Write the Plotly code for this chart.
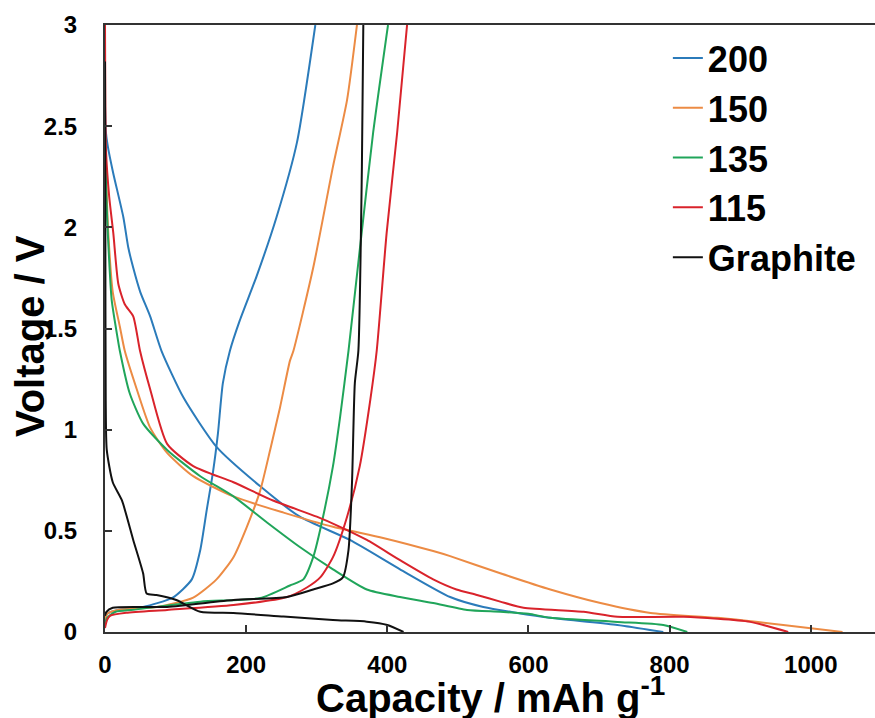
import plotly.graph_objects as go

# ---- data (capacity mAh/g, voltage V) ----
series_names = ["200", "150", "135", "115", "Graphite"]

blue_dis_x = [0, 1, 4, 11.5, 26, 33, 40, 50, 64, 80, 111, 158, 220, 276, 347, 418, 489, 536, 631, 726, 791]
blue_dis_y = [2.6, 2.48, 2.4, 2.27, 2.05, 1.9, 1.80, 1.68, 1.56, 1.39, 1.16, 0.915, 0.72, 0.57, 0.455, 0.31, 0.173, 0.124, 0.07, 0.035, 0]
blue_ch_x = [0, 3, 20, 54, 96, 123, 135, 144, 153, 160, 167, 177, 191, 215, 243, 272, 298]
blue_ch_y = [0.06, 0.09, 0.11, 0.124, 0.17, 0.26, 0.405, 0.60, 0.79, 0.98, 1.23, 1.39, 1.54, 1.76, 2.05, 2.42, 3.0]

orange_dis_x = [0, 2, 5, 11, 21, 28, 45, 64, 88, 125, 182, 253, 323, 394, 465, 489, 560, 631, 702, 773, 867, 961, 1045]
orange_dis_y = [2.45, 2.2, 1.95, 1.68, 1.51, 1.39, 1.2, 1.01, 0.885, 0.77, 0.67, 0.59, 0.52, 0.465, 0.40, 0.375, 0.29, 0.21, 0.143, 0.094, 0.07, 0.035, 0]
orange_ch_x = [0, 3, 20, 74, 125, 158, 182, 201, 220, 234, 248, 262, 267, 295, 323, 343, 357]
orange_ch_y = [0.06, 0.09, 0.11, 0.124, 0.17, 0.26, 0.37, 0.52, 0.70, 0.90, 1.11, 1.34, 1.39, 1.80, 2.30, 2.63, 3.0]

green_dis_x = [0, 1, 2, 4, 9.5, 18, 21, 35, 54, 88, 135, 182, 230, 276, 323, 371, 418, 465, 513, 560, 600, 631, 726, 791, 825]
green_dis_y = [2.35, 2.3, 2.15, 1.97, 1.64, 1.45, 1.39, 1.18, 1.03, 0.90, 0.77, 0.67, 0.54, 0.42, 0.31, 0.21, 0.173, 0.143, 0.109, 0.10, 0.09, 0.07, 0.05, 0.035, 0]
green_ch_x = [0, 3, 15, 40, 135, 220, 262, 281, 295, 309, 323, 333, 345, 361, 380, 401]
green_ch_y = [0.04, 0.07, 0.10, 0.11, 0.15, 0.168, 0.23, 0.26, 0.37, 0.57, 0.82, 1.06, 1.39, 1.89, 2.47, 3.0]

red_dis_x = [0, 0.5, 1.4, 6, 11.8, 18.9, 28, 40, 49.6, 64, 88, 125, 182, 238, 300, 333, 371, 418, 465, 498, 527, 560, 593, 678, 726, 820, 914, 968]
red_dis_y = [3.0, 2.6, 2.38, 2.15, 1.97, 1.72, 1.62, 1.56, 1.39, 1.20, 0.93, 0.82, 0.74, 0.65, 0.57, 0.52, 0.455, 0.355, 0.26, 0.21, 0.183, 0.15, 0.12, 0.10, 0.075, 0.075, 0.05, 0]
red_ch_x = [0, 3, 7, 30, 88, 182, 258, 286, 305, 323, 343, 361, 376, 385, 399, 414, 428]
red_ch_y = [0.02, 0.06, 0.08, 0.095, 0.109, 0.133, 0.173, 0.22, 0.27, 0.37, 0.57, 0.82, 1.15, 1.39, 1.97, 2.47, 3.0]

black_dis_x = [0, 0.5, 1, 2.5, 11, 24, 40, 54, 59, 73, 101, 135, 182, 253, 323, 371, 400, 423]
black_dis_y = [2.82, 2.0, 1.15, 0.90, 0.74, 0.65, 0.455, 0.29, 0.19, 0.183, 0.158, 0.10, 0.094, 0.076, 0.059, 0.051, 0.035, 0]
black_ch_x = [0, 2, 11, 88, 182, 258, 295, 323, 337, 345, 350, 354, 359, 364, 366]
black_ch_y = [0.08, 0.10, 0.12, 0.124, 0.158, 0.173, 0.21, 0.24, 0.27, 0.405, 0.74, 1.23, 1.39, 2.3, 3.0]

x_tick_vals = [0, 200, 400, 600, 800, 1000]
y_tick_vals = [0, 0.5, 1, 1.5, 2, 2.5, 3]
y_tick_text = ["0", "0.5", "1", "1.5", "2", "2.5", "3"]

colors = ["#2B7BBA", "#EC8B44", "#20A55A", "#D9232B", "#111111"]

curves = [
    (blue_dis_x, blue_dis_y, blue_ch_x, blue_ch_y),
    (orange_dis_x, orange_dis_y, orange_ch_x, orange_ch_y),
    (green_dis_x, green_dis_y, green_ch_x, green_ch_y),
    (red_dis_x, red_dis_y, red_ch_x, red_ch_y),
    (black_dis_x, black_dis_y, black_ch_x, black_ch_y),
]

FONT = "Liberation Sans, Arial, sans-serif"

fig = go.Figure()
for i, (name, (dx, dy, cx, cy)) in enumerate(zip(series_names, curves)):
    fig.add_trace(go.Scatter(
        x=list(dx) + [None] + list(cx),
        y=list(dy) + [None] + list(cy),
        mode="lines",
        name=name,
        legendgroup=name,
        line=dict(color=colors[i], width=2, shape="spline", smoothing=0.6),
        connectgaps=False,
    ))

fig.update_layout(
    width=875, height=718,
    margin=dict(l=105, r=0, t=25, b=86, autoexpand=False),
    paper_bgcolor="white", plot_bgcolor="white",
    showlegend=True,
    legend=dict(
        x=0.731, y=0.995, xanchor="left", yanchor="top",
        font=dict(family=FONT, size=36, color="black", weight="bold"),
        bgcolor="rgba(0,0,0,0)", borderwidth=0,
        tracegroupgap=0,
    ),
    xaxis=dict(
        range=[0, 1091], tickvals=x_tick_vals, automargin=False,
        ticks="inside", ticklen=7, tickwidth=1.5, tickcolor="#333",
        showline=True, linecolor="#333", linewidth=2, mirror=True,
        showgrid=False, zeroline=False,
        tickfont=dict(family=FONT, size=24, color="black", weight="bold"),
        ticklabelstandoff=10,
    ),
    yaxis=dict(
        range=[0, 3], tickvals=y_tick_vals, ticktext=y_tick_text, automargin=False,
        ticks="inside", ticklen=7, tickwidth=1.5, tickcolor="#333",
        showline=True, linecolor="#333", linewidth=2, mirror=False,
        showgrid=False, zeroline=False,
        tickfont=dict(family=FONT, size=24, color="black", weight="bold"),
        ticklabelstandoff=21,
    ),
    annotations=[
        dict(text="Capacity / mAh g<sup>-1</sup>", xref="paper", yref="paper",
             x=0.5, y=-0.104, xanchor="center", yanchor="middle", showarrow=False,
             font=dict(family=FONT, size=40, color="black", weight="bold")),
        dict(text="Voltage / V", xref="paper", yref="paper",
             x=-0.0974, y=0.4876, xanchor="center", yanchor="middle", showarrow=False,
             textangle=-90,
             font=dict(family=FONT, size=40, color="black", weight="bold")),
    ],
)

fig.write_html(
    "out.html",
    config={"displayModeBar": False},
    post_script="document.body.style.margin='0';document.body.style.overflow='hidden';"
                "document.documentElement.style.overflow='hidden';",
)
